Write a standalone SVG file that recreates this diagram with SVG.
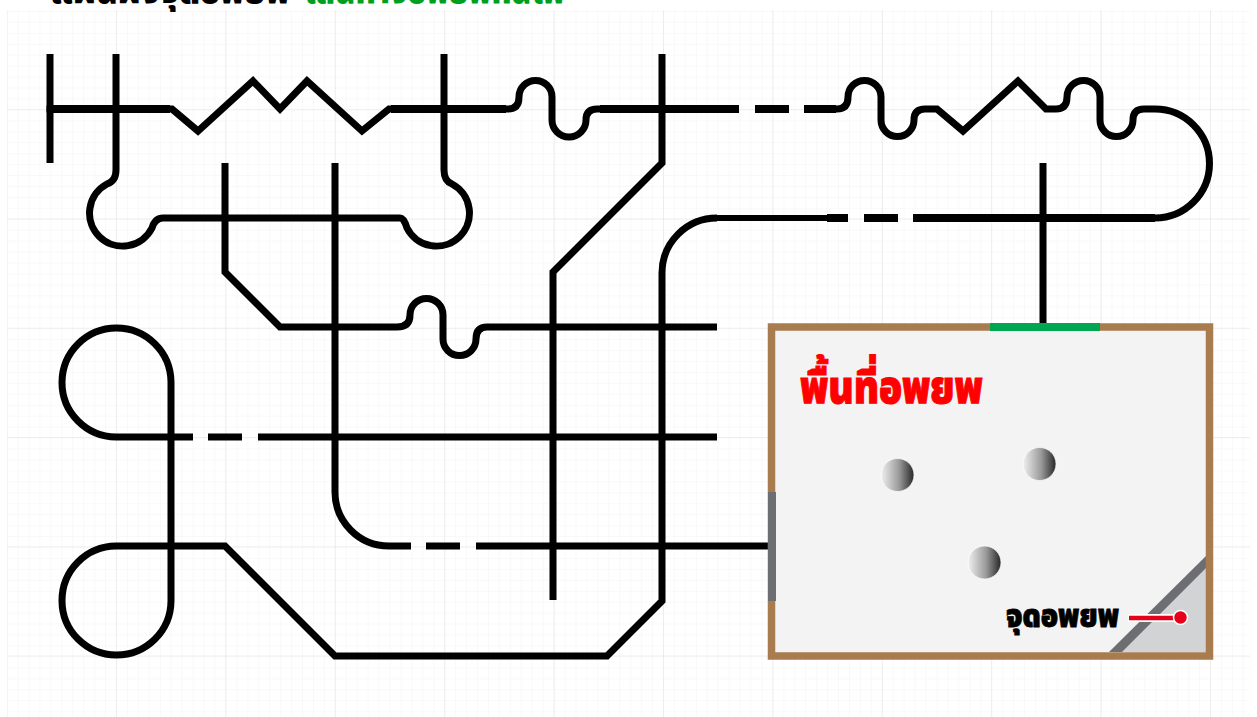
<svg xmlns="http://www.w3.org/2000/svg" width="1257" height="717" viewBox="0 0 1257 717">
<style>
.w{fill:none;stroke:#000;stroke-width:7;stroke-linejoin:miter;stroke-miterlimit:10}
.h{fill:none;stroke:#000;stroke-width:8}
.t{font-family:"Noto Sans Thai","Noto Sans","DejaVu Sans",sans-serif;font-weight:900}
</style>
<defs>
<pattern id="minor" width="10.94" height="10.94" patternUnits="userSpaceOnUse" patternTransform="translate(6.6 0)"><path d="M0 0V10.94M0 0H10.94" fill="none" stroke="#f3f3f3" stroke-width="1"/></pattern>
<pattern id="major" width="109.4" height="109.25" patternUnits="userSpaceOnUse" patternTransform="translate(6.6 0)"><path d="M0 0V109.25M0 0H109.4" fill="none" stroke="#e2e2e2" stroke-width="1"/></pattern>
<linearGradient id="ball"><stop offset="0" stop-color="#f0f0f0"/><stop offset=".55" stop-color="#9a9a9a"/><stop offset="1" stop-color="#262626"/></linearGradient>
</defs>
<rect width="1257" height="717" fill="#fff"/>
<g id="grid"><rect x="7" y="10" width="1243" height="707" fill="url(#minor)"/><rect x="7" y="10" width="1243" height="707" fill="url(#major)"/></g>
<g id="title" class="t" font-size="36"><text x="50" y="3" fill="#000" textLength="240" lengthAdjust="spacingAndGlyphs">แผนผังจุดอพยพ</text><text x="305" y="3" fill="#00a01e" textLength="260" lengthAdjust="spacingAndGlyphs">เส้นทางอพยพหนีไฟ</text></g>
<g id="connectors">
<path class="w" d="M50 54V163"/>
<path class="w" d="M46.500 109H172L198 131L253 81L280 109L307 81L362 131L389 109H508Q519 109 519 97A16.500 16.500 0 0 1 552 97V120A17 17 0 0 0 586 120Q586 109 597 109H739"/>
<path class="h" d="M50 109H170M391 109H506M600 109H739"/>
<path class="h" d="M755 109H789"/>
<path class="w" d="M804 109H837Q848 109 848 97A16.500 16.500 0 0 1 881 97V120A16.500 16.500 0 0 0 914 120Q914 109 925 109H937L963 131L1018 81L1046 109H1056Q1067 109 1067 97A16.500 16.500 0 0 1 1100 97V120A16.500 16.500 0 0 0 1133 120Q1133 109 1144 109H1155A54.500 54.500 0 0 1 1155 218H913"/>
<path class="h" d="M804 109H836"/>
<path class="h" d="M913 218H1155M864 218H898M827 218H848"/>
<path class="w" style="stroke-width:6" d="M827 218H717"/>
<path class="w" d="M717 218A55 55 0 0 0 662 273V601L607 656H335L225 546H116A54.500 54.500 0 1 0 171 601V382A54.500 54.500 0 1 0 116 437H193"/>
<path class="w" d="M208 437H242"/>
<path class="w" d="M258 437H717"/>
<path class="w" d="M116 54V170Q116 181 107 184A33 33 0 1 0 152 228Q155 218 163 218H400Q404 218 407 228A33 33 0 1 0 452 184Q444 181 444 170V54"/>
<path class="w" d="M225 163V272L280 327H397Q410 327 410 315A16.500 16.500 0 0 1 443 315V339A16.500 16.500 0 0 0 476 339Q476 327 487 327H717"/>
<path class="w" d="M335 163V492A54 54 0 0 0 389 546H411"/>
<path class="w" d="M426 546H460"/>
<path class="w" d="M476 546H770"/>
<path class="w" d="M553 600V272L662 163V54"/>
<path class="w" d="M1043 163V325"/>
</g>
<g id="evacuation-area">
<rect x="771.500" y="327" width="438" height="329" fill="#f3f3f3"/>
<polygon points="1206,566 1206,652 1122,652" fill="#d1d3d4"/>
<polygon points="1206,556 1206,568 1122,652 1109,652" fill="#6d6e71"/>
<rect x="771.500" y="327" width="438" height="329" fill="none" stroke="#a97c50" stroke-width="7.500"/>
<rect x="990" y="323" width="110" height="8" fill="#00a651"/>
<rect x="768" y="492" width="8" height="109" fill="#6d6e71"/>
<text class="t" x="800" y="403" font-size="46" fill="#f00" stroke="#f00" stroke-width="1" textLength="183" lengthAdjust="spacingAndGlyphs">พื้นที่อพยพ</text>
</g>
<g id="ball-1"><circle cx="897.500" cy="475" r="16.500" fill="url(#ball)" stroke="#fff" stroke-opacity=".7"/></g>
<g id="ball-2"><circle cx="1039.500" cy="464" r="16.500" fill="url(#ball)" stroke="#fff" stroke-opacity=".7"/></g>
<g id="ball-3"><circle cx="984.500" cy="562.500" r="16.500" fill="url(#ball)" stroke="#fff" stroke-opacity=".7"/></g>
<g id="assembly-point">
<text class="t" x="1006" y="627" font-size="32" fill="#000" stroke="#000" stroke-width=".8" textLength="113" lengthAdjust="spacingAndGlyphs">จุดอพยพ</text>
<path d="M1128 618H1180" stroke="#fff" stroke-width="8" fill="none"/>
<path d="M1129 618H1180" stroke="#e6001a" stroke-width="4.500" fill="none"/>
<circle cx="1180.500" cy="617.500" r="7" fill="#e6001a" stroke="#fff" stroke-width="1.500"/>
</g>
</svg>
